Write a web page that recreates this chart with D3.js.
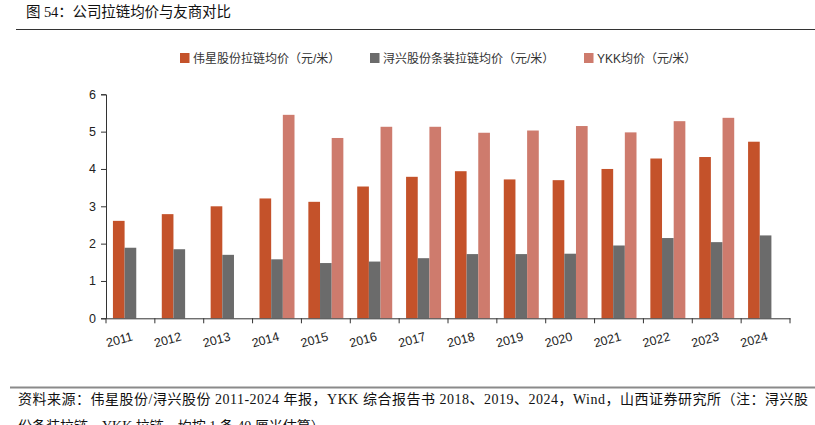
<!DOCTYPE html>
<html><head><meta charset="utf-8">
<script src="https://cdn.jsdelivr.net/npm/d3@7/dist/d3.min.js"></script>
<style>
body{margin:0;background:#fff;}
svg{display:block;}
</style></head>
<body>
<svg id="c" width="815" height="425"></svg>
<script>
const years = ["2011","2012","2013","2014","2015","2016","2017","2018","2019","2020","2021","2022","2023","2024"];
const weixing = [2.61,2.79,3.00,3.21,3.12,3.53,3.79,3.94,3.72,3.70,4.00,4.28,4.32,4.73];
const xunxing = [1.89,1.85,1.70,1.58,1.48,1.52,1.61,1.72,1.72,1.73,1.95,2.15,2.04,2.22];
const ykk = [null,null,null,5.45,4.83,5.13,5.13,4.97,5.03,5.15,4.98,5.28,5.37,null];
const seriesNames = ["伟星股份拉链均价（元/米）","浔兴股份条装拉链均价（元/米）","YKK均价（元/米）"];
const colors = ["#C4522A","#6B6B6B","#CE7B6D"];
const yTicks = [0,1,2,3,4,5,6];

(function(){
const svg = d3.select("#c");
const cjk = "'Liberation Sans', Arial, 'Noto Sans CJK SC', sans-serif";
const serif = "'Liberation Serif', 'Times New Roman', 'Noto Sans CJK SC', serif";

// title
svg.append("text").attr("x",26).attr("y",17).attr("font-family",serif)
  .attr("font-size",14.5).attr("fill","#111")
  .attr("textLength",205).attr("lengthAdjust","spacing")
  .text("图 54：公司拉链均价与友商对比");
svg.append("line").attr("x1",16).attr("x2",815).attr("y1",29.5).attr("y2",29.5)
  .attr("stroke","#333").attr("stroke-width",1);

const pl=106, pr=790, pt=94.3, pb=318.3;
const x = d3.scaleBand().domain(years).range([pl,pr]).paddingInner(0).paddingOuter(0);
const inner = d3.scaleBand().domain([0,1,2]).range([0,35]).padding(0);
const y = d3.scaleLinear().domain([0,6]).range([pb,pt]);

const data = [weixing,xunxing,ykk];
const g = svg.append("g");
data.forEach((arr,si)=>{
  g.selectAll(null).data(years.map((yr,i)=>({yr,v:arr[i]})).filter(d=>d.v!=null))
   .enter().append("rect")
   .attr("x",d=>x(d.yr)+(x.bandwidth()-35)/2+inner(si))
   .attr("width",inner.bandwidth())
   .attr("y",d=>y(d.v))
   .attr("height",d=>y(0)-y(d.v))
   .attr("fill",colors[si]);
});

// y axis
const yAxis = svg.append("g").attr("transform",`translate(${pl},0)`)
  .call(d3.axisLeft(y).tickValues(yTicks).tickSize(5).tickPadding(5).tickFormat(d3.format("d")));
yAxis.select(".domain").attr("stroke","#333");
yAxis.selectAll(".tick line").attr("stroke","#333");
yAxis.selectAll("text").attr("font-family",cjk).attr("font-size",12.5).attr("fill","#222");

// x axis
const xAxis = svg.append("g").attr("transform",`translate(0,${pb})`)
  .call(d3.axisBottom(x).tickSize(0).tickFormat(""));
xAxis.select(".domain").attr("stroke","#333");
const bounds = years.map(yr=>x(yr)).concat([pr]);
svg.append("g").selectAll("line").data(bounds).enter().append("line")
  .attr("x1",d=>d).attr("x2",d=>d).attr("y1",pb).attr("y2",pb+5).attr("stroke","#333");
svg.append("g").selectAll("text").data(years).enter().append("text")
  .attr("transform",d=>`translate(${x(d)+x.bandwidth()/2+3},${pb+22}) rotate(-15)`)
  .attr("text-anchor","end").attr("font-family",cjk).attr("font-size",12.5).attr("fill","#222")
  .text(d=>d);

// legend
const legX = [180,370,584];
seriesNames.forEach((n,i)=>{
  svg.append("rect").attr("x",legX[i]).attr("y",53).attr("width",9.5).attr("height",10).attr("fill",colors[i]);
  svg.append("text").attr("x",legX[i]+13).attr("y",62.5).attr("font-family",cjk)
    .attr("font-size",12).attr("fill","#333").text(n);
});

// footer
svg.append("line").attr("x1",10).attr("x2",815).attr("y1",387.5).attr("y2",387.5)
  .attr("stroke","#8a8a8a").attr("stroke-width",2);
svg.append("text").attr("x",18).attr("y",404).attr("font-family",serif).attr("font-size",14).attr("fill","#111")
  .attr("textLength",790).attr("lengthAdjust","spacing")
  .text("资料来源：伟星股份/浔兴股份 2011-2024 年报，YKK 综合报告书 2018、2019、2024，Wind，山西证券研究所（注：浔兴股");
svg.append("text").attr("x",18).attr("y",431).attr("font-family",serif).attr("font-size",14).attr("fill","#111")
  .text("份条装拉链，YKK 拉链，均按 1 条 40 厘米估算）");
})();
</script>
</body></html>
